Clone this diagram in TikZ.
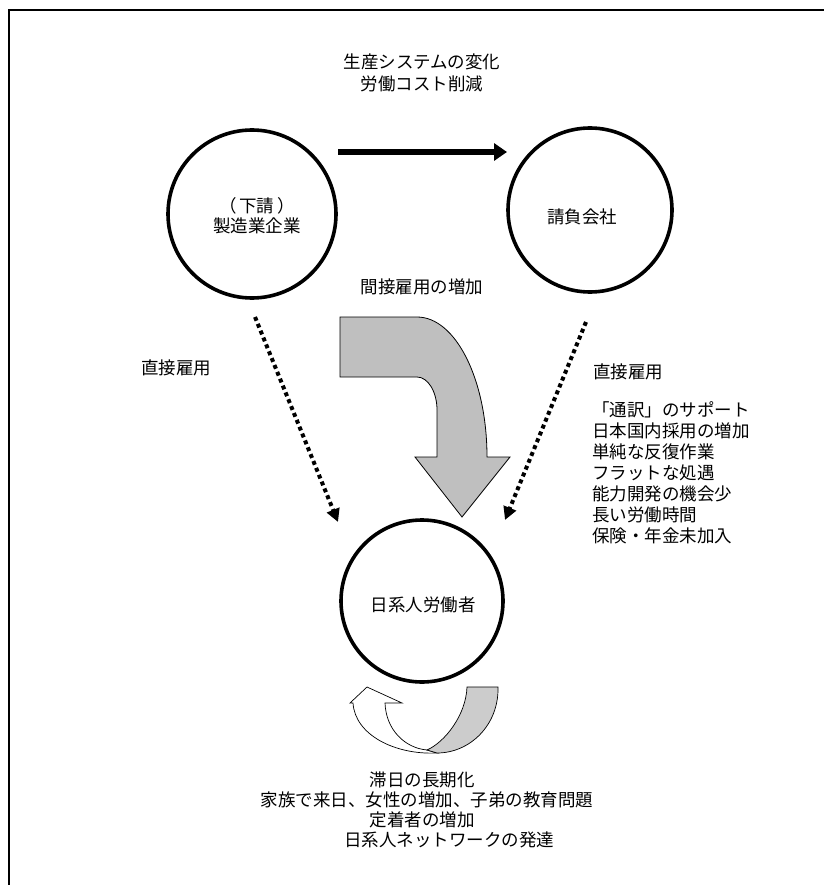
\documentclass[tikz,border=0pt]{standalone}
\usepackage{fontspec}
\newfontfamily\jp{Noto Sans CJK JP}
\usetikzlibrary{arrows.meta}
\begin{document}
\begin{tikzpicture}[x=1pt,y=-1pt,
  txt/.style={font=\jp\fontsize{17.5}{21}\selectfont, inner sep=0pt, text height=15.4pt, text depth=2.1pt},
  ring/.style={circle, draw, line width=3.6pt, inner sep=0pt},
  dotarrow/.style={line width=4pt, dash pattern=on 4pt off 3.4pt, -{Triangle[length=13pt,width=13pt]}},
  mainarrow/.style={line width=5.5pt, -{Triangle[length=13pt,width=17pt]}},
  bigarrow/.style={draw, line width=0.8pt, fill=black!25, line join=miter},
  uwhite/.style={draw, line width=0.7pt, fill=white},
  ugray/.style={draw, line width=0.7pt, fill=black!20}]
\useasboundingbox (0,0) rectangle (823,885);
% frame (only left and top edges visible)
\draw[line width=2.6pt] (9,890) -- (9,10) -- (830,10);

% title
\node[txt] (title1) at (422,62) {生産システムの変化};
\node[txt] (title2) at (422,84) {労働コスト削減};

% circles
\node[ring, minimum size=168pt] (c1) at (252,214) {};
\node[ring, minimum size=164pt] (c2) at (590,210) {};
\node[ring, minimum size=162pt] (c3) at (422,601) {};
\node[txt] (t1a) at (257,206) {（\hspace{3pt}下請\hspace{3pt}）};
\node[txt] (t1b) at (257,226) {製造業企業};
\node[txt] (t2) at (582,217) {請負会社};
\node[txt] (t3) at (423,605) {日系人労働者};

% horizontal arrow
\coordinate (h1) at (338,152);
\coordinate (h2) at (507,152);
\draw[mainarrow] (h1) -- (h2);

% middle label
\node[txt] (mid) at (422,287) {間接雇用の増加};

% dotted arrows
\coordinate (l1) at (255,317);
\coordinate (l2) at (338,522);
\coordinate (r1) at (586,322);
\coordinate (r2) at (505,520);
\draw[dotarrow] (l1) -- (l2);
\draw[dotarrow] (r1) -- (r2);

\node[txt] (dl) at (176,368) {直接雇用};
\node[txt, anchor=west] (dr) at (593,372) {直接雇用};

% list
\node[txt, anchor=west] (k1) at (592,410) {「通訳」のサポート};
\node[txt, anchor=west] (k2) at (592,431) {日本国内採用の増加};
\node[txt, anchor=west] (k3) at (592,452) {単純な反復作業};
\node[txt, anchor=west] (k4) at (592,473) {フラットな処遇};
\node[txt, anchor=west] (k5) at (592,494) {能力開発の機会少};
\node[txt, anchor=west] (k6) at (592,515) {長い労働時間};
\node[txt, anchor=west] (k7) at (592,536) {保険・年金未加入};

% big grey bent arrow
\path[bigarrow] (340,317) -- (417,317)
  .. controls (455.7,317) and (487,379.7) .. (487,457)
  -- (510,457) -- (462,517) -- (415,457) -- (437,457) -- (437,410)
  .. controls (437,391.8) and (428,377) .. (417,377)
  -- (340,377) -- cycle;

% bottom U-turn arrow
\path[uwhite] (367,687) -- (402,703) -- (385,703)
  .. controls (386,730) and (405,748) .. (427,750)
  -- (437,753)
  .. controls (395,755) and (355,735) .. (353,703)
  -- (350,703) -- cycle;
\path[ugray] (467,687) -- (498,687)
  .. controls (499,725) and (470,753) .. (437,753)
  -- (427,750)
  .. controls (445,742) and (466,715) .. (467,687) -- cycle;

% bottom text
\node[txt] (b1) at (422,780) {滞日の長期化};
\node[txt] (b2) at (427,800) {家族で来日、女性の増加、子弟の教育問題};
\node[txt] (b3) at (422,820) {定着者の増加};
\node[txt] (b4) at (449,840) {日系人ネットワークの発達};
\end{tikzpicture}
\end{document}
